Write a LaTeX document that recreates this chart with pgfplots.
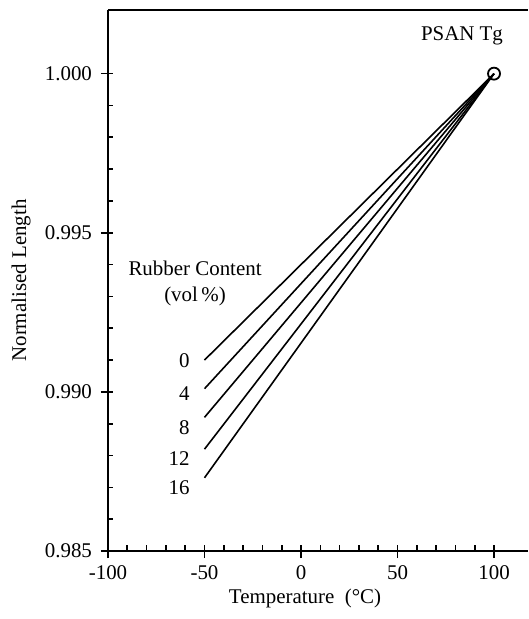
\documentclass[border=0pt]{standalone}
\usepackage{fontspec}
\setmainfont{Liberation Serif}
\usepackage{pgfplots}
\pgfplotsset{compat=1.18}
\begin{document}
\begin{tikzpicture}[font=\fontsize{10.5}{12.5}\selectfont]
\begin{axis}[
  scale only axis,
  width=210bp, height=270.5bp,
  xmin=-100, xmax=117.6,
  ymin=0.985, ymax=1.002,
  axis lines=left,
  axis line style={line width=1bp, -},
  xtick={-100,-50,0,50,100},
  ytick={0.985,0.990,0.995,1.000},
  minor x tick num=4,
  minor y tick num=4,
  tick align=inside,
  major tick length=2.75bp,
  minor tick length=2.75bp,
  tick style={line width=0.8bp, black},
  extra x ticks={-100,-50,0,50,100},
  extra x tick labels={},
  extra y ticks={0.985,0.990,0.995,1.000},
  extra y tick labels={},
  extra tick style={tick align=outside, major tick length=3.5bp},
  scaled y ticks=false,
  /pgf/number format/assume math mode=true,
  yticklabel style={xshift=-4.5bp, /pgf/number format/.cd, fixed, fixed zerofill, precision=3},
  xticklabel style={yshift=-4bp, /pgf/number format/.cd, fixed},
  xlabel={Temperature\ \ (°C)},
  ylabel={Normalised Length},
  xlabel style={at={(axis description cs:0.469,-0.087)}, anchor=center},
  ylabel style={at={(axis description cs:-0.207,0.5)}, anchor=center},
  clip=false,
]
\addplot[black, line width=0.8bp] coordinates {(-50,0.9910) (100,1.000)};
\addplot[black, line width=0.8bp] coordinates {(-50,0.9901) (100,1.000)};
\addplot[black, line width=0.8bp] coordinates {(-50,0.9892) (100,1.000)};
\addplot[black, line width=0.8bp] coordinates {(-50,0.9882) (100,1.000)};
\addplot[black, line width=0.8bp] coordinates {(-50,0.9873) (100,1.000)};
\addplot[only marks, mark=o, mark size=3bp, mark options={line width=0.9bp, fill=white}] coordinates {(100,1.000)};
\draw[line width=1bp] (rel axis cs:0,1) -- (rel axis cs:1,1);
\node at (axis cs:83.4,1.00119) {PSAN Tg};
\node at (axis cs:-54.9,0.99388) {Rubber Content};
\node at (axis cs:-54.9,0.99300) {(vol\,\%)};
\node[anchor=east, inner sep=0pt] at (axis cs:-57.5,0.99099) {0};
\node[anchor=east, inner sep=0pt] at (axis cs:-57.5,0.98993) {4};
\node[anchor=east, inner sep=0pt] at (axis cs:-57.5,0.98889) {8};
\node[anchor=east, inner sep=0pt] at (axis cs:-57.5,0.98792) {12};
\node[anchor=east, inner sep=0pt] at (axis cs:-57.5,0.98698) {16};
\end{axis}
\path ([xshift=-54bp, yshift=5bp]current axis.north west) rectangle ([yshift=-34bp]current axis.south east);
\end{tikzpicture}
\end{document}
